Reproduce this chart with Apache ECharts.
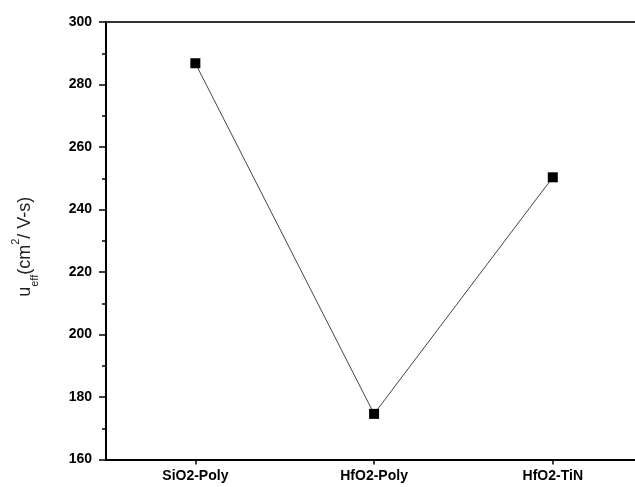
<!DOCTYPE html>
<html>
<head>
<meta charset="utf-8">
<script src="https://cdn.jsdelivr.net/npm/echarts@6/dist/echarts.min.js"></script>
<style>html,body{margin:0;padding:0;background:#fff}#c{width:635px;height:487px}</style>
</head>
<body>
<div id="c"></div>
<script>
const categories = ['SiO2-Poly', 'HfO2-Poly', 'HfO2-TiN'];
const mobility = [286.8, 174.6, 250.3];
const yTicks = [160, 180, 200, 220, 240, 260, 280, 300];

const catIdx = categories.map((c, i) => i);
const seriesData = mobility.map((v, i) => [i, v]);

const chart = echarts.init(document.getElementById('c'));
const font = '"Liberation Sans", Arial, sans-serif';
chart.setOption({
  animation: false,
  backgroundColor: '#fff',
  grid: { left: 106, top: 22, right: 0, bottom: 27.5, containLabel: false },
  xAxis: [{
    type: 'value',
    min: -0.5,
    max: 2.46,
    position: 'bottom',
    axisLine: { show: true, onZero: false, lineStyle: { color: '#000', width: 2 } },
    axisTick: { show: true, customValues: catIdx, length: 5, inside: false, lineStyle: { color: '#000', width: 1.5 } },
    axisLabel: { customValues: catIdx, formatter: v => categories[Math.round(v)] || '', color: '#000', fontFamily: font, fontWeight: 'bold', fontSize: 14, margin: 10, showMinLabel: true, showMaxLabel: true },
    splitLine: { show: false }
  }, {
    type: 'value',
    min: -0.5,
    max: 2.46,
    position: 'top',
    axisLine: { show: true, onZero: false, lineStyle: { color: '#333', width: 2 } },
    axisTick: { show: false },
    axisLabel: { show: false },
    splitLine: { show: false }
  }],
  yAxis: {
    type: 'value',
    min: yTicks[0],
    max: yTicks[yTicks.length - 1],
    interval: 20,
    position: 'left',
    name: '{m|u}{sub|eff}{m|(cm}{sup|2}{m|/ V-s)}',
    nameLocation: 'middle',
    nameGap: 66,
    nameRotate: 90,
    nameTextStyle: {
      padding: [0, 12, 0, 0],
      rich: {
        m: { fontFamily: font, fontSize: 18, color: '#222', lineHeight: 30, verticalAlign: 'middle' },
        sub: { fontFamily: font, fontSize: 11, color: '#222', verticalAlign: 'bottom', lineHeight: 11 },
        sup: { fontFamily: font, fontSize: 11, color: '#222', verticalAlign: 'top', lineHeight: 11 }
      }
    },
    axisLine: { show: true, onZero: false, lineStyle: { color: '#000', width: 2 } },
    axisTick: { show: true, length: 7, inside: false, lineStyle: { color: '#000', width: 1.5 } },
    minorTick: { show: true, splitNumber: 2, length: 4, lineStyle: { color: '#000', width: 1.5 } },
    axisLabel: { color: '#000', fontFamily: font, fontWeight: 'bold', fontSize: 14, margin: 14 },
    splitLine: { show: false }
  },
  series: [{
    type: 'line',
    data: seriesData,
    symbol: 'rect',
    symbolSize: 10,
    itemStyle: { color: '#000' },
    lineStyle: { color: '#444', width: 1 }
  }]
});
</script>
</body>
</html>
